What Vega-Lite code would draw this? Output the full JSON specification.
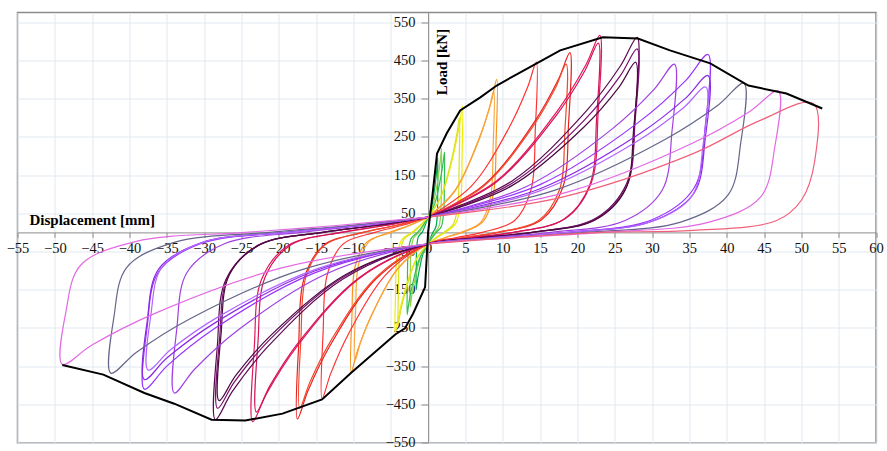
{
"$schema":"https://vega.github.io/schema/vega-lite/v6.json",
"width":858.5,"height":430.2,
"autosize":{"type":"none"},
"padding":{"left":17.5,"top":12.5,"right":11,"bottom":8.3},
"background":"white",
"config":{"view":{"stroke":"#8c8c8c","strokeWidth":1.5}},
"datasets":{
"loops":[
{"s":"G1","k":0,"d":0,"p":40},{"s":"G1","k":1,"d":0.52,"p":71},{"s":"G1","k":2,"d":0.98,"p":130},{"s":"G1","k":3,"d":1.2,"p":170},{"s":"G1","k":4,"d":1.3,"p":195},{"s":"G1","k":5,"d":1.29,"p":117},{"s":"G1","k":6,"d":1.24,"p":49},{"s":"G1","k":7,"d":1.04,"p":14},{"s":"G1","k":8,"d":0.65,"p":0},{"s":"G1","k":9,"d":0.33,"p":-14},{"s":"G1","k":10,"d":0,"p":-30},{"s":"G1","k":11,"d":-0.64,"p":-54},{"s":"G1","k":12,"d":-1.2,"p":-100},{"s":"G1","k":13,"d":-1.47,"p":-131},{"s":"G1","k":14,"d":-1.6,"p":-150},{"s":"G1","k":15,"d":-1.58,"p":-90},{"s":"G1","k":16,"d":-1.52,"p":-38},{"s":"G1","k":17,"d":-1.28,"p":-11},{"s":"G1","k":18,"d":-0.8,"p":0},{"s":"G1","k":19,"d":-0.4,"p":18},{"s":"G1","k":20,"d":0,"p":40},
{"s":"G2","k":0,"d":0,"p":40},{"s":"G2","k":1,"d":0.72,"p":76},{"s":"G2","k":2,"d":1.35,"p":144},{"s":"G2","k":3,"d":1.66,"p":191},{"s":"G2","k":4,"d":1.8,"p":220},{"s":"G2","k":5,"d":1.78,"p":132},{"s":"G2","k":6,"d":1.71,"p":55},{"s":"G2","k":7,"d":1.44,"p":15},{"s":"G2","k":8,"d":0.9,"p":0},{"s":"G2","k":9,"d":0.45,"p":-14},{"s":"G2","k":10,"d":0,"p":-30},{"s":"G2","k":11,"d":-0.96,"p":-63},{"s":"G2","k":12,"d":-1.8,"p":-126},{"s":"G2","k":13,"d":-2.21,"p":-169},{"s":"G2","k":14,"d":-2.4,"p":-195},{"s":"G2","k":15,"d":-2.38,"p":-117},{"s":"G2","k":16,"d":-2.28,"p":-49},{"s":"G2","k":17,"d":-1.92,"p":-14},{"s":"G2","k":18,"d":-1.2,"p":0},{"s":"G2","k":19,"d":-0.6,"p":18},{"s":"G2","k":20,"d":0,"p":40},
{"s":"G3","k":0,"d":0,"p":40},{"s":"G3","k":1,"d":0.88,"p":74},{"s":"G3","k":2,"d":1.65,"p":139},{"s":"G3","k":3,"d":2.02,"p":183},{"s":"G3","k":4,"d":2.2,"p":210},{"s":"G3","k":5,"d":2.18,"p":126},{"s":"G3","k":6,"d":2.09,"p":53},{"s":"G3","k":7,"d":1.76,"p":15},{"s":"G3","k":8,"d":1.1,"p":0},{"s":"G3","k":9,"d":0.55,"p":-14},{"s":"G3","k":10,"d":0,"p":-30},{"s":"G3","k":11,"d":-1.12,"p":-67},{"s":"G3","k":12,"d":-2.1,"p":-137},{"s":"G3","k":13,"d":-2.58,"p":-185},{"s":"G3","k":14,"d":-2.8,"p":-215},{"s":"G3","k":15,"d":-2.77,"p":-129},{"s":"G3","k":16,"d":-2.66,"p":-54},{"s":"G3","k":17,"d":-2.24,"p":-15},{"s":"G3","k":18,"d":-1.4,"p":0},{"s":"G3","k":19,"d":-0.7,"p":18},{"s":"G3","k":20,"d":0,"p":40},
{"s":"Y1","k":0,"d":0,"p":40},{"s":"Y1","k":1,"d":1.84,"p":98},{"s":"Y1","k":2,"d":3.45,"p":208},{"s":"Y1","k":3,"d":4.23,"p":284},{"s":"Y1","k":4,"d":4.6,"p":330},{"s":"Y1","k":5,"d":4.55,"p":198},{"s":"Y1","k":6,"d":4.37,"p":83},{"s":"Y1","k":7,"d":3.68,"p":23},{"s":"Y1","k":8,"d":2.3,"p":0},{"s":"Y1","k":9,"d":1.15,"p":-14},{"s":"Y1","k":10,"d":0,"p":-30},{"s":"Y1","k":11,"d":-1.76,"p":-77},{"s":"Y1","k":12,"d":-3.3,"p":-166},{"s":"Y1","k":13,"d":-4.05,"p":-227},{"s":"Y1","k":14,"d":-4.4,"p":-265},{"s":"Y1","k":15,"d":-4.36,"p":-159},{"s":"Y1","k":16,"d":-4.18,"p":-66},{"s":"Y1","k":17,"d":-3.52,"p":-19},{"s":"Y1","k":18,"d":-2.2,"p":0},{"s":"Y1","k":19,"d":-1.1,"p":18},{"s":"Y1","k":20,"d":0,"p":40},
{"s":"Y2","k":0,"d":0,"p":40},{"s":"Y2","k":1,"d":1.68,"p":92},{"s":"Y2","k":2,"d":3.15,"p":191},{"s":"Y2","k":3,"d":3.86,"p":258},{"s":"Y2","k":4,"d":4.2,"p":300},{"s":"Y2","k":5,"d":4.16,"p":180},{"s":"Y2","k":6,"d":3.99,"p":75},{"s":"Y2","k":7,"d":3.36,"p":21},{"s":"Y2","k":8,"d":2.1,"p":0},{"s":"Y2","k":9,"d":1.05,"p":-14},{"s":"Y2","k":10,"d":0,"p":-30},{"s":"Y2","k":11,"d":-1.6,"p":-72},{"s":"Y2","k":12,"d":-3.0,"p":-152},{"s":"Y2","k":13,"d":-3.68,"p":-206},{"s":"Y2","k":14,"d":-4.0,"p":-240},{"s":"Y2","k":15,"d":-3.96,"p":-144},{"s":"Y2","k":16,"d":-3.8,"p":-60},{"s":"Y2","k":17,"d":-3.2,"p":-17},{"s":"Y2","k":18,"d":-2.0,"p":0},{"s":"Y2","k":19,"d":-1.0,"p":18},{"s":"Y2","k":20,"d":0,"p":40},
{"s":"O1","k":0,"d":0,"p":40},{"s":"O1","k":1,"d":3.68,"p":112},{"s":"O1","k":2,"d":6.9,"p":249},{"s":"O1","k":3,"d":8.46,"p":342},{"s":"O1","k":4,"d":9.2,"p":400},{"s":"O1","k":5,"d":9.11,"p":240},{"s":"O1","k":6,"d":8.74,"p":100},{"s":"O1","k":7,"d":7.36,"p":28},{"s":"O1","k":8,"d":4.6,"p":0},{"s":"O1","k":9,"d":2.3,"p":-14},{"s":"O1","k":10,"d":0,"p":-30},{"s":"O1","k":11,"d":-4.12,"p":-97},{"s":"O1","k":12,"d":-7.73,"p":-224},{"s":"O1","k":13,"d":-9.48,"p":-311},{"s":"O1","k":14,"d":-10.3,"p":-365},{"s":"O1","k":15,"d":-10.2,"p":-219},{"s":"O1","k":16,"d":-9.79,"p":-91},{"s":"O1","k":17,"d":-8.24,"p":-26},{"s":"O1","k":18,"d":-5.15,"p":0},{"s":"O1","k":19,"d":-2.58,"p":18},{"s":"O1","k":20,"d":0,"p":40},
{"s":"O2","k":0,"d":0,"p":40},{"s":"O2","k":1,"d":3.52,"p":106},{"s":"O2","k":2,"d":6.6,"p":231},{"s":"O2","k":3,"d":8.1,"p":317},{"s":"O2","k":4,"d":8.8,"p":370},{"s":"O2","k":5,"d":8.71,"p":222},{"s":"O2","k":6,"d":8.36,"p":93},{"s":"O2","k":7,"d":7.04,"p":26},{"s":"O2","k":8,"d":4.4,"p":0},{"s":"O2","k":9,"d":2.2,"p":-14},{"s":"O2","k":10,"d":0,"p":-30},{"s":"O2","k":11,"d":-3.92,"p":-91},{"s":"O2","k":12,"d":-7.35,"p":-207},{"s":"O2","k":13,"d":-9.02,"p":-286},{"s":"O2","k":14,"d":-9.8,"p":-335},{"s":"O2","k":15,"d":-9.7,"p":-201},{"s":"O2","k":16,"d":-9.31,"p":-84},{"s":"O2","k":17,"d":-7.84,"p":-23},{"s":"O2","k":18,"d":-4.9,"p":0},{"s":"O2","k":19,"d":-2.45,"p":18},{"s":"O2","k":20,"d":0,"p":40},
{"s":"R1","k":0,"d":0,"p":40},{"s":"R1","k":1,"d":5.8,"p":121},{"s":"R1","k":2,"d":10.88,"p":275},{"s":"R1","k":3,"d":13.34,"p":380},{"s":"R1","k":4,"d":14.5,"p":445},{"s":"R1","k":5,"d":14.36,"p":267},{"s":"R1","k":6,"d":13.78,"p":111},{"s":"R1","k":7,"d":11.6,"p":31},{"s":"R1","k":8,"d":7.25,"p":0},{"s":"R1","k":9,"d":3.63,"p":-14},{"s":"R1","k":10,"d":0,"p":-30},{"s":"R1","k":11,"d":-5.68,"p":-111},{"s":"R1","k":12,"d":-10.65,"p":-265},{"s":"R1","k":13,"d":-13.06,"p":-370},{"s":"R1","k":14,"d":-14.2,"p":-435},{"s":"R1","k":15,"d":-14.06,"p":-261},{"s":"R1","k":16,"d":-13.49,"p":-109},{"s":"R1","k":17,"d":-11.36,"p":-30},{"s":"R1","k":18,"d":-7.1,"p":0},{"s":"R1","k":19,"d":-3.55,"p":18},{"s":"R1","k":20,"d":0,"p":40},
{"s":"R2","k":0,"d":0,"p":40},{"s":"R2","k":1,"d":7.6,"p":126},{"s":"R2","k":2,"d":14.25,"p":289},{"s":"R2","k":3,"d":17.48,"p":401},{"s":"R2","k":4,"d":19,"p":470},{"s":"R2","k":5,"d":18.81,"p":282},{"s":"R2","k":6,"d":18.05,"p":118},{"s":"R2","k":7,"d":15.2,"p":33},{"s":"R2","k":8,"d":9.5,"p":0},{"s":"R2","k":9,"d":4.75,"p":-14},{"s":"R2","k":10,"d":0,"p":-30},{"s":"R2","k":11,"d":-7.0,"p":-122},{"s":"R2","k":12,"d":-13.13,"p":-296},{"s":"R2","k":13,"d":-16.1,"p":-415},{"s":"R2","k":14,"d":-17.5,"p":-488},{"s":"R2","k":15,"d":-17.33,"p":-293},{"s":"R2","k":16,"d":-16.63,"p":-122},{"s":"R2","k":17,"d":-14.0,"p":-34},{"s":"R2","k":18,"d":-8.75,"p":0},{"s":"R2","k":19,"d":-4.38,"p":18},{"s":"R2","k":20,"d":0,"p":40},
{"s":"R3","k":0,"d":0,"p":40},{"s":"R3","k":1,"d":7.4,"p":120},{"s":"R3","k":2,"d":13.88,"p":272},{"s":"R3","k":3,"d":17.02,"p":376},{"s":"R3","k":4,"d":18.5,"p":440},{"s":"R3","k":5,"d":18.32,"p":264},{"s":"R3","k":6,"d":17.58,"p":110},{"s":"R3","k":7,"d":14.8,"p":31},{"s":"R3","k":8,"d":9.25,"p":0},{"s":"R3","k":9,"d":4.63,"p":-14},{"s":"R3","k":10,"d":0,"p":-30},{"s":"R3","k":11,"d":-6.88,"p":-116},{"s":"R3","k":12,"d":-12.9,"p":-279},{"s":"R3","k":13,"d":-15.82,"p":-391},{"s":"R3","k":14,"d":-17.2,"p":-460},{"s":"R3","k":15,"d":-17.03,"p":-276},{"s":"R3","k":16,"d":-16.34,"p":-115},{"s":"R3","k":17,"d":-13.76,"p":-32},{"s":"R3","k":18,"d":-8.6,"p":0},{"s":"R3","k":19,"d":-4.3,"p":18},{"s":"R3","k":20,"d":0,"p":40},
{"s":"C1","k":0,"d":0,"p":40},{"s":"C1","k":1,"d":9.2,"p":135},{"s":"C1","k":2,"d":17.25,"p":316},{"s":"C1","k":3,"d":21.16,"p":439},{"s":"C1","k":4,"d":23,"p":515},{"s":"C1","k":5,"d":22.77,"p":309},{"s":"C1","k":6,"d":21.85,"p":129},{"s":"C1","k":7,"d":18.4,"p":36},{"s":"C1","k":8,"d":11.5,"p":0},{"s":"C1","k":9,"d":5.75,"p":-14},{"s":"C1","k":10,"d":0,"p":-30},{"s":"C1","k":11,"d":-9.4,"p":-123},{"s":"C1","k":12,"d":-17.63,"p":-300},{"s":"C1","k":13,"d":-21.62,"p":-421},{"s":"C1","k":14,"d":-23.5,"p":-495},{"s":"C1","k":15,"d":-23.27,"p":-297},{"s":"C1","k":16,"d":-22.33,"p":-124},{"s":"C1","k":17,"d":-18.8,"p":-35},{"s":"C1","k":18,"d":-11.75,"p":0},{"s":"C1","k":19,"d":-5.88,"p":18},{"s":"C1","k":20,"d":0,"p":40},
{"s":"C2","k":0,"d":0,"p":40},{"s":"C2","k":1,"d":9.12,"p":131},{"s":"C2","k":2,"d":17.1,"p":304},{"s":"C2","k":3,"d":20.98,"p":422},{"s":"C2","k":4,"d":22.8,"p":495},{"s":"C2","k":5,"d":22.57,"p":297},{"s":"C2","k":6,"d":21.66,"p":124},{"s":"C2","k":7,"d":18.24,"p":35},{"s":"C2","k":8,"d":11.4,"p":0},{"s":"C2","k":9,"d":5.7,"p":-14},{"s":"C2","k":10,"d":0,"p":-30},{"s":"C2","k":11,"d":-9.2,"p":-118},{"s":"C2","k":12,"d":-17.25,"p":-285},{"s":"C2","k":13,"d":-21.16,"p":-400},{"s":"C2","k":14,"d":-23,"p":-470},{"s":"C2","k":15,"d":-22.77,"p":-282},{"s":"C2","k":16,"d":-21.85,"p":-118},{"s":"C2","k":17,"d":-18.4,"p":-33},{"s":"C2","k":18,"d":-11.5,"p":0},{"s":"C2","k":19,"d":-5.75,"p":18},{"s":"C2","k":20,"d":0,"p":40},
{"s":"P1","k":0,"d":0,"p":40},{"s":"P1","k":1,"d":11.2,"p":134},{"s":"P1","k":2,"d":21,"p":313},{"s":"P1","k":3,"d":25.76,"p":435},{"s":"P1","k":4,"d":28,"p":510},{"s":"P1","k":5,"d":27.72,"p":306},{"s":"P1","k":6,"d":26.6,"p":128},{"s":"P1","k":7,"d":22.4,"p":36},{"s":"P1","k":8,"d":14,"p":0},{"s":"P1","k":9,"d":7,"p":-14},{"s":"P1","k":10,"d":0,"p":-30},{"s":"P1","k":11,"d":-11.4,"p":-122},{"s":"P1","k":12,"d":-21.38,"p":-297},{"s":"P1","k":13,"d":-26.22,"p":-416},{"s":"P1","k":14,"d":-28.5,"p":-490},{"s":"P1","k":15,"d":-28.22,"p":-294},{"s":"P1","k":16,"d":-27.08,"p":-123},{"s":"P1","k":17,"d":-22.8,"p":-34},{"s":"P1","k":18,"d":-14.25,"p":0},{"s":"P1","k":19,"d":-7.13,"p":18},{"s":"P1","k":20,"d":0,"p":40},
{"s":"P2","k":0,"d":0,"p":40},{"s":"P2","k":1,"d":11.2,"p":128},{"s":"P2","k":2,"d":21,"p":295},{"s":"P2","k":3,"d":25.76,"p":410},{"s":"P2","k":4,"d":28,"p":480},{"s":"P2","k":5,"d":27.72,"p":288},{"s":"P2","k":6,"d":26.6,"p":120},{"s":"P2","k":7,"d":22.4,"p":34},{"s":"P2","k":8,"d":14,"p":0},{"s":"P2","k":9,"d":7,"p":-14},{"s":"P2","k":10,"d":0,"p":-30},{"s":"P2","k":11,"d":-11.28,"p":-116},{"s":"P2","k":12,"d":-21.15,"p":-279},{"s":"P2","k":13,"d":-25.94,"p":-391},{"s":"P2","k":14,"d":-28.2,"p":-460},{"s":"P2","k":15,"d":-27.92,"p":-276},{"s":"P2","k":16,"d":-26.79,"p":-115},{"s":"P2","k":17,"d":-22.56,"p":-32},{"s":"P2","k":18,"d":-14.1,"p":0},{"s":"P2","k":19,"d":-7.05,"p":18},{"s":"P2","k":20,"d":0,"p":40},
{"s":"P3","k":0,"d":0,"p":40},{"s":"P3","k":1,"d":11.12,"p":121},{"s":"P3","k":2,"d":20.85,"p":275},{"s":"P3","k":3,"d":25.58,"p":380},{"s":"P3","k":4,"d":27.8,"p":445},{"s":"P3","k":5,"d":27.52,"p":267},{"s":"P3","k":6,"d":26.41,"p":111},{"s":"P3","k":7,"d":22.24,"p":31},{"s":"P3","k":8,"d":13.9,"p":0},{"s":"P3","k":9,"d":6.95,"p":-14},{"s":"P3","k":10,"d":0,"p":-30},{"s":"P3","k":11,"d":-11.2,"p":-112},{"s":"P3","k":12,"d":-21,"p":-268},{"s":"P3","k":13,"d":-25.76,"p":-374},{"s":"P3","k":14,"d":-28,"p":-440},{"s":"P3","k":15,"d":-27.72,"p":-264},{"s":"P3","k":16,"d":-26.6,"p":-110},{"s":"P3","k":17,"d":-22.4,"p":-31},{"s":"P3","k":18,"d":-14,"p":0},{"s":"P3","k":19,"d":-7,"p":18},{"s":"P3","k":20,"d":0,"p":40},
{"s":"V1","k":0,"d":0,"p":40},{"s":"V1","k":1,"d":13.2,"p":120},{"s":"V1","k":2,"d":24.75,"p":272},{"s":"V1","k":3,"d":30.36,"p":376},{"s":"V1","k":4,"d":33,"p":440},{"s":"V1","k":5,"d":32.67,"p":264},{"s":"V1","k":6,"d":31.35,"p":110},{"s":"V1","k":7,"d":26.4,"p":31},{"s":"V1","k":8,"d":16.5,"p":0},{"s":"V1","k":9,"d":8.25,"p":-14},{"s":"V1","k":10,"d":0,"p":-30},{"s":"V1","k":11,"d":-13.6,"p":-108},{"s":"V1","k":12,"d":-25.5,"p":-256},{"s":"V1","k":13,"d":-31.28,"p":-358},{"s":"V1","k":14,"d":-34,"p":-420},{"s":"V1","k":15,"d":-33.66,"p":-252},{"s":"V1","k":16,"d":-32.3,"p":-105},{"s":"V1","k":17,"d":-27.2,"p":-29},{"s":"V1","k":18,"d":-17,"p":0},{"s":"V1","k":19,"d":-8.5,"p":18},{"s":"V1","k":20,"d":0,"p":40},
{"s":"V2","k":0,"d":0,"p":40},{"s":"V2","k":1,"d":15,"p":125},{"s":"V2","k":2,"d":28.13,"p":287},{"s":"V2","k":3,"d":34.5,"p":397},{"s":"V2","k":4,"d":37.5,"p":465},{"s":"V2","k":5,"d":37.13,"p":279},{"s":"V2","k":6,"d":35.63,"p":116},{"s":"V2","k":7,"d":30,"p":33},{"s":"V2","k":8,"d":18.75,"p":0},{"s":"V2","k":9,"d":9.38,"p":-14},{"s":"V2","k":10,"d":0,"p":-30},{"s":"V2","k":11,"d":-15.2,"p":-106},{"s":"V2","k":12,"d":-28.5,"p":-250},{"s":"V2","k":13,"d":-34.96,"p":-349},{"s":"V2","k":14,"d":-38,"p":-410},{"s":"V2","k":15,"d":-37.62,"p":-246},{"s":"V2","k":16,"d":-36.1,"p":-103},{"s":"V2","k":17,"d":-30.4,"p":-29},{"s":"V2","k":18,"d":-19,"p":0},{"s":"V2","k":19,"d":-9.5,"p":18},{"s":"V2","k":20,"d":0,"p":40},
{"s":"V3","k":0,"d":0,"p":40},{"s":"V3","k":1,"d":15,"p":114},{"s":"V3","k":2,"d":28.13,"p":255},{"s":"V3","k":3,"d":34.5,"p":351},{"s":"V3","k":4,"d":37.5,"p":410},{"s":"V3","k":5,"d":37.13,"p":246},{"s":"V3","k":6,"d":35.63,"p":103},{"s":"V3","k":7,"d":30,"p":29},{"s":"V3","k":8,"d":18.75,"p":0},{"s":"V3","k":9,"d":9.38,"p":-14},{"s":"V3","k":10,"d":0,"p":-30},{"s":"V3","k":11,"d":-15.2,"p":-101},{"s":"V3","k":12,"d":-28.5,"p":-236},{"s":"V3","k":13,"d":-34.96,"p":-328},{"s":"V3","k":14,"d":-38,"p":-385},{"s":"V3","k":15,"d":-37.62,"p":-231},{"s":"V3","k":16,"d":-36.1,"p":-96},{"s":"V3","k":17,"d":-30.4,"p":-27},{"s":"V3","k":18,"d":-19,"p":0},{"s":"V3","k":19,"d":-9.5,"p":18},{"s":"V3","k":20,"d":0,"p":40},
{"s":"V4","k":0,"d":0,"p":40},{"s":"V4","k":1,"d":14.88,"p":108},{"s":"V4","k":2,"d":27.9,"p":237},{"s":"V4","k":3,"d":34.22,"p":326},{"s":"V4","k":4,"d":37.2,"p":380},{"s":"V4","k":5,"d":36.83,"p":228},{"s":"V4","k":6,"d":35.34,"p":95},{"s":"V4","k":7,"d":29.76,"p":27},{"s":"V4","k":8,"d":18.6,"p":0},{"s":"V4","k":9,"d":9.3,"p":-14},{"s":"V4","k":10,"d":0,"p":-30},{"s":"V4","k":11,"d":-15,"p":-96},{"s":"V4","k":12,"d":-28.13,"p":-221},{"s":"V4","k":13,"d":-34.5,"p":-307},{"s":"V4","k":14,"d":-37.5,"p":-360},{"s":"V4","k":15,"d":-37.13,"p":-216},{"s":"V4","k":16,"d":-35.63,"p":-90},{"s":"V4","k":17,"d":-30,"p":-25},{"s":"V4","k":18,"d":-18.75,"p":0},{"s":"V4","k":19,"d":-9.38,"p":18},{"s":"V4","k":20,"d":0,"p":40},
{"s":"S1","k":0,"d":0,"p":40},{"s":"S1","k":1,"d":16.92,"p":110},{"s":"S1","k":2,"d":31.73,"p":243},{"s":"S1","k":3,"d":38.92,"p":334},{"s":"S1","k":4,"d":42.3,"p":390},{"s":"S1","k":5,"d":41.88,"p":234},{"s":"S1","k":6,"d":40.19,"p":98},{"s":"S1","k":7,"d":33.84,"p":27},{"s":"S1","k":8,"d":21.15,"p":0},{"s":"S1","k":9,"d":10.58,"p":-14},{"s":"S1","k":10,"d":0,"p":-30},{"s":"S1","k":11,"d":-17,"p":-98},{"s":"S1","k":12,"d":-31.88,"p":-226},{"s":"S1","k":13,"d":-39.1,"p":-314},{"s":"S1","k":14,"d":-42.5,"p":-368},{"s":"S1","k":15,"d":-42.08,"p":-221},{"s":"S1","k":16,"d":-40.38,"p":-92},{"s":"S1","k":17,"d":-34,"p":-26},{"s":"S1","k":18,"d":-21.25,"p":0},{"s":"S1","k":19,"d":-10.63,"p":18},{"s":"S1","k":20,"d":0,"p":40},
{"s":"M1","k":0,"d":0,"p":40},{"s":"M1","k":1,"d":18.76,"p":106},{"s":"M1","k":2,"d":35.18,"p":231},{"s":"M1","k":3,"d":43.15,"p":317},{"s":"M1","k":4,"d":46.9,"p":370},{"s":"M1","k":5,"d":46.43,"p":222},{"s":"M1","k":6,"d":44.56,"p":93},{"s":"M1","k":7,"d":37.52,"p":26},{"s":"M1","k":8,"d":23.45,"p":0},{"s":"M1","k":9,"d":11.73,"p":-14},{"s":"M1","k":10,"d":0,"p":-30},{"s":"M1","k":11,"d":-19.6,"p":-93},{"s":"M1","k":12,"d":-36.75,"p":-213},{"s":"M1","k":13,"d":-45.08,"p":-295},{"s":"M1","k":14,"d":-49,"p":-345},{"s":"M1","k":15,"d":-48.51,"p":-207},{"s":"M1","k":16,"d":-46.55,"p":-86},{"s":"M1","k":17,"d":-39.2,"p":-24},{"s":"M1","k":18,"d":-24.5,"p":0},{"s":"M1","k":19,"d":-12.25,"p":18},{"s":"M1","k":20,"d":0,"p":40},
{"s":"H1","k":0,"d":0,"p":40},{"s":"H1","k":1,"d":17.7,"p":91},{"s":"H1","k":2,"d":35.5,"p":206},{"s":"H1","k":3,"d":44.5,"p":293},{"s":"H1","k":4,"d":51.6,"p":337},{"s":"H1","k":5,"d":51.8,"p":188},{"s":"H1","k":6,"d":50,"p":84},{"s":"H1","k":7,"d":46.7,"p":31},{"s":"H1","k":8,"d":35.5,"p":5},{"s":"H1","k":9,"d":23,"p":0},{"s":"H1","k":10,"d":11,"p":-14},{"s":"H1","k":11,"d":0,"p":-30}
],
"env":[
{"k":0,"d":-49,"p":-347},{"k":1,"d":-43.5,"p":-372},{"k":2,"d":-38,"p":-420},{"k":3,"d":-34,"p":-448},{"k":4,"d":-29,"p":-490},{"k":5,"d":-24.5,"p":-492},{"k":6,"d":-19.5,"p":-474},{"k":7,"d":-14.2,"p":-437},{"k":8,"d":-10.3,"p":-367},{"k":9,"d":-4.4,"p":-267},{"k":10,"d":-3.1,"p":-251},{"k":11,"d":-2,"p":-212},{"k":12,"d":-0.4,"p":-143},{"k":13,"d":0,"p":0},{"k":14,"d":0.6,"p":100},{"k":15,"d":1.2,"p":206},{"k":16,"d":2.5,"p":259},{"k":17,"d":4.3,"p":319},{"k":18,"d":7,"p":353},{"k":19,"d":9.2,"p":384},{"k":20,"d":12.3,"p":418},{"k":21,"d":17.7,"p":476},{"k":22,"d":23.4,"p":510},{"k":23,"d":28.1,"p":507},{"k":24,"d":32.4,"p":476},{"k":25,"d":37.8,"p":442},{"k":26,"d":42.9,"p":384},{"k":27,"d":48,"p":363},{"k":28,"d":52.8,"p":324}
]},
"layer":[
{"data":{"name":"loops"},
 "mark":{"type":"line","interpolate":"catmull-rom","strokeWidth":1.2,"clip":true},
 "encoding":{
  "x":{"field":"d","type":"quantitative","scale":{"domain":[-55,60],"nice":false,"zero":false},
   "axis":{"values":[-55,-50,-45,-40,-35,-30,-25,-20,-15,-10,-5,0,5,10,15,20,25,30,35,40,45,50,55,60],"tickCount":100,
     "offset":-210.3,"grid":true,"gridColor":"#e2e8ef","gridWidth":1,"domainColor":"#8c8c8c","domainWidth":1,"tickColor":"#8c8c8c","tickSize":5,
     "labelFont":"Liberation Serif","labelFontSize":14.5,"labelColor":"#111111","labelPadding":4,"labelOverlap":false,"labelFlush":false,"labelBound":false,
     "title":"Displacement [mm]","titleFont":"Liberation Serif","titleFontSize":15,"titleFontWeight":"bold","titleColor":"#000000",
     "titleX":11.5,"titleY":-8,"titleAlign":"left","titleAnchor":"start","titleBaseline":"alphabetic","titleAngle":0}},
  "y":{"field":"p","type":"quantitative","scale":{"domain":[-550,575],"nice":false,"zero":false},
   "axis":{"values":[-550,-450,-350,-250,-150,-50,50,150,250,350,450,550],"tickCount":100,
     "offset":-410.6,"grid":true,"gridColor":"#e2e8ef","gridWidth":1,"domainColor":"#8c8c8c","domainWidth":1,"tickColor":"#8c8c8c","tickSize":7,
     "labelFont":"Liberation Serif","labelFontSize":14.5,"labelColor":"#111111","labelPadding":6,"labelOverlap":false,"labelFlush":false,"labelBound":false,
     "title":"Load [kN]","titleFont":"Liberation Serif","titleFontSize":15,"titleFontWeight":"bold","titleColor":"#000000",
     "titleX":18,"titleY":49,"titleAlign":"center","titleBaseline":"alphabetic","titleAngle":-90}},
  "color":{"field":"s","type":"nominal","legend":null,
   "scale":{"domain":["G1","G2","G3","Y1","Y2","O1","O2","R1","R2","R3","C1","C2","P1","P2","P3","V1","V2","V3","V4","S1","M1","H1"],
    "range":["#00a650","#92d050","#2fbf4f","#eded00","#d9e021","#f7941d","#faa53a","#ff3333","#e82020","#f24a2c","#e0185c","#d4145a","#5c0a4f","#7a1070","#4b0a40","#a040e0","#9933ff","#8a2be2","#b266ff","#66668a","#e36ae3","#f0607a"]}},
  "order":{"field":"k","type":"quantitative"}}},
{"data":{"name":"env"},
 "mark":{"type":"line","color":"#000000","strokeWidth":2,"clip":true},
 "encoding":{"x":{"field":"d","type":"quantitative"},"y":{"field":"p","type":"quantitative"},"order":{"field":"k","type":"quantitative"}}}
]
}
